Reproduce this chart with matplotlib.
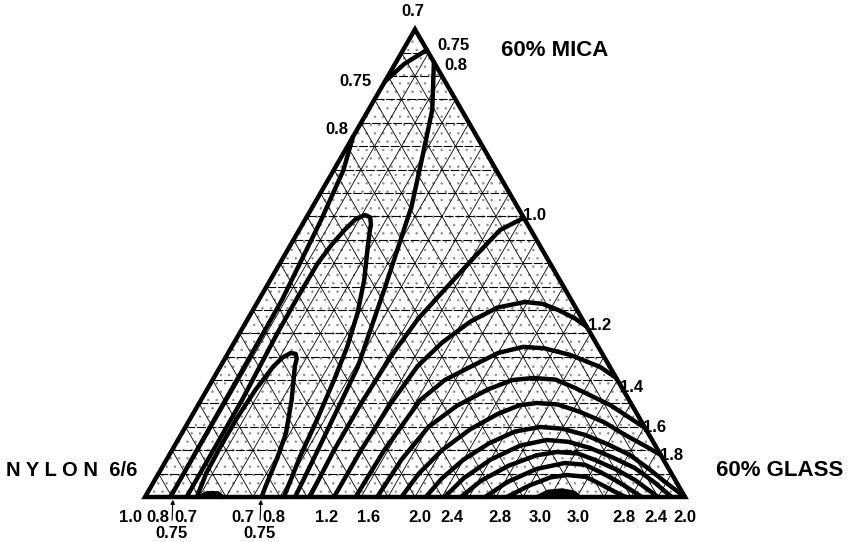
import numpy as np
import matplotlib.pyplot as plt
from matplotlib.patches import Polygon

# contour lines, as (glass %, mica %); nylon = 100 - glass - mica
c075_top_g = [0, 1.7, 4.4]
c075_top_m = [88.8, 92.6, 95.6]

c080_left_g = [0, 1.8, 3.0, 4.3, 4.5, 4.6, 4.7]
c080_left_m = [77.0, 69.9, 59.2, 42.1, 25.0, 10.0, 0]

c075_g = [7.7, 7.6, 7.0, 6.9, 7.0, 7.6, 8.4, 9.3, 10.6, 11.8, 12.7, 13.1, 14.5, 17.4,
          19.7, 21.4, 22.5, 23.6, 24.4, 25.5, 25.7]
c075_m = [0, 20.7, 35.0, 42.8, 50.0, 54.0, 57.1, 59.4, 60.3, 59.8, 58.3, 57.1, 53.5, 46.4,
          39.3, 32.1, 25.0, 16.5, 8.6, 1.5, 0]

c070_g = [9.6, 8.8, 8.6, 8.6, 9.0, 9.8, 10.6, 11.6, 12.6, 13.3, 13.8, 16.8, 19.3, 20.4,
          21.2, 21.6]
c070_m = [0, 5.1, 10.8, 17.2, 22.9, 27.9, 29.9, 30.8, 30.6, 29.6, 27.9, 20.7, 13.6, 7.9,
          2.2, 0]

c080_right_g = [7.0, 11.8, 15.2, 18.3, 22.0, 25.5, 27.0, 27.8]
c080_right_m = [93.0, 82.8, 72.1, 62.1, 45.0, 27.8, 10.0, 0]

c100_g = [30.5, 30.0, 30.0, 30.5, 31.5, 33.5, 35.5, 37.2, 40.3]
c100_m = [0, 10, 20, 30, 38, 45, 51.8, 57.1, 59.7]

c120_g = [35, 35, 35.5, 36.5, 38.5, 41.5, 45.0, 49.5, 53, 56.5, 60.5, 63.6]
c120_m = [0, 10, 20, 28, 33, 37.5, 40.5, 41.7, 41.3, 40.0, 38.2, 36.4]

c140_g = [39, 39.3, 40.6, 43, 46.3, 50, 54.0, 58, 63.5, 70.4, 74.55]
c140_m = [0, 10, 20.7, 25, 27.8, 30.8, 32.1, 31.8, 30.4, 27.8, 25.45]

c160_g = [43, 43.5, 45, 48, 52, 55.5, 59.1, 63.5, 68.0, 76.3, 85.24]
c160_m = [0, 8, 15, 19.5, 23, 25, 25.45, 25.1, 23.31, 19.67, 14.76]

c180_g = [47.5, 48.2, 50, 53, 56.5, 59.5, 62.5, 66.5, 71.5, 77, 82.3, 87, 91.02]
c180_m = [0, 5, 10, 14.5, 17.8, 19.6, 20.1, 19.8, 18.18, 16, 13.26, 11, 8.98]

c200_g = [52, 53, 55, 58, 61.5, 65.7, 70, 74.9, 80, 85.3, 90.5, 94.7, 100]
c200_m = [0, 4, 8, 11.5, 14, 14.97, 14.6, 13.26, 11.3, 8.98, 5.9, 3.21, 0]

c220_g = [55.5, 57, 60, 64, 68.3, 72.5, 77.2, 82.5, 87.6, 93, 97.5]
c220_m = [0, 4, 8, 11, 12.19, 11.8, 10.48, 8.4, 6.2, 3, 0]

c240_g = [58.5, 60.5, 64, 68, 71.5, 75.5, 79.4, 84.5, 88.9, 95]
c240_m = [0, 3.5, 6.7, 8.9, 9.62, 9.3, 7.91, 5.8, 3.64, 0]

c260_g = [63, 65.5, 69.5, 74.1, 78, 81.6, 85.5, 88.5, 92]
c260_m = [0, 3.2, 6, 7.27, 6.9, 5.35, 3.5, 1.92, 0]

c280_g = [67, 70, 73, 75.8, 79.5, 82.9, 86.5, 89]
c280_m = [0, 2.5, 4.2, 4.7, 4.3, 2.78, 1.1, 0]

c300_g = [72.5, 74, 76.5, 79, 80.5]
c300_m = [0, 1.2, 1.5, 1.0, 0]

low_g = [9.8, 11, 13, 14.5]
low_m = [0, 0.9, 0.9, 0]

contours = [
    (c075_top_g, c075_top_m), (c080_left_g, c080_left_m), (c075_g, c075_m),
    (c070_g, c070_m), (c080_right_g, c080_right_m), (c100_g, c100_m),
    (c120_g, c120_m), (c140_g, c140_m), (c160_g, c160_m), (c180_g, c180_m),
    (c200_g, c200_m), (c220_g, c220_m), (c240_g, c240_m), (c260_g, c260_m),
    (c280_g, c280_m),
]


def tern(g, m):
    g = np.asarray(g, dtype=float) / 100.0
    m = np.asarray(m, dtype=float) / 100.0
    return g + m / 2, m * np.sqrt(3) / 2


fig = plt.figure(figsize=(8.54, 5.42), dpi=100)
ax = fig.add_axes([0, 0, 1, 1])
ax.set_xlim(-145 / 540, 709 / 540)
ax.set_ylim(-45 / 540, 497 / 540)
ax.axis('off')

# stippled background of the triangle
tx, ty = tern([0, 100, 0], [0, 0, 100])
plt.rcParams['hatch.linewidth'] = 0.5
ax.add_patch(Polygon(np.column_stack([tx, ty]), closed=True, facecolor='white',
                     edgecolor='#8a8a8a', lw=0, hatch='..', zorder=0))

# triangular grid every 5 %
for i in range(1, 20):
    f = i * 5
    x, y = tern([0, 100 - f], [f, f])
    ax.plot(x, y, color='black', lw=0.8, dashes=(8, 1.5), zorder=1)
    x, y = tern([f, f], [0, 100 - f])
    ax.plot(x, y, color='black', lw=0.6, zorder=1)
    x, y = tern([100 - f, 0], [0, 100 - f])
    ax.plot(x, y, color='black', lw=0.6, zorder=1)

for g, m in contours:
    x, y = tern(g, m)
    ax.plot(x, y, color='black', lw=3.2, solid_capstyle='round',
            solid_joinstyle='round', zorder=3)

for g, m in [(c300_g, c300_m), (low_g, low_m)]:
    x, y = tern(g, m)
    ax.fill(x, y, color='black', zorder=3)
    ax.plot(x, y, color='black', lw=2.5, zorder=3)

ax.add_patch(Polygon(np.column_stack([tx, ty]), closed=True, fill=False,
                     edgecolor='black', lw=3.2, joinstyle='miter', zorder=4))

fnt = dict(family='Liberation Sans', fontweight='bold', color='black')


def px(xp, yp):
    return (xp - 145) / 540, (497 - yp) / 540


edge_labels = [
    ('0.7', 413, 12), ('0.75', 453, 45), ('0.8', 456, 66),
    ('0.75', 355, 82), ('0.8', 337, 130),
    ('1.0', 535, 215), ('1.2', 600, 325), ('1.4', 632, 387),
    ('1.6', 655, 427), ('1.8', 672, 456),
]
for t, xp, yp in edge_labels:
    ax.text(*px(xp, yp), t, fontsize=12, ha='center', va='center', **fnt)

bottom_labels = ['1.0', '0.8', '0.7', '0.7', '0.8', '1.2', '1.6', '2.0', '2.4',
                 '2.8', '3.0', '3.0', '2.8', '2.4', '2.0']
bottom_x = [130, 158, 186, 243, 274, 327, 369, 420, 452, 500, 540, 578, 624, 656, 685]
for t, xp in zip(bottom_labels, bottom_x):
    ax.text(*px(xp, 518), t, fontsize=12, ha='center', va='center', **fnt)

for xp in [172, 260]:
    ax.text(*px(xp, 533), '0.75', fontsize=12, ha='center', va='center', **fnt)
    ax.annotate('', xy=px(xp + 1, 497), xytext=px(xp, 523),
                arrowprops=dict(arrowstyle='-|>', color='black', lw=0.8,
                                mutation_scale=6))

ax.text(*px(72, 470), 'N Y L O N  6/6', fontsize=14.5, ha='center', va='center', **fnt)
ax.text(*px(780, 470), '60% GLASS', fontsize=16, ha='center', va='center', **fnt)
ax.text(*px(555, 50), '60% MICA', fontsize=16, ha='center', va='center', **fnt)

fig.savefig('out.png', dpi=100)
